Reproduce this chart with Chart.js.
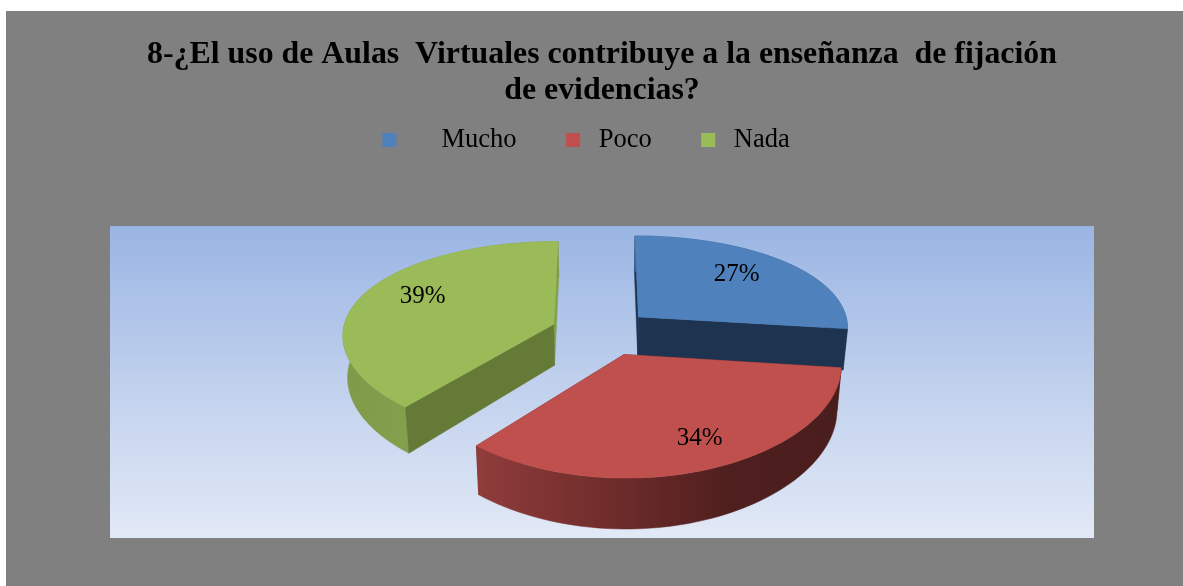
<!DOCTYPE html>
<html><head><meta charset="utf-8">
<style>html,body{margin:0;padding:0;background:#fff}canvas{display:block}</style>
<script src="https://cdn.jsdelivr.net/npm/chart.js@4"></script>
</head><body><canvas id="c" width="1183" height="586"></canvas>
<script>
const titleLines = ["8-¿El uso de Aulas  Virtuales contribuye a la enseñanza  de fijación", "de evidencias?"];
const categories = ["Mucho", "Poco", "Nada"];
const legendText = ["    \u2009Mucho      ", "\u2009Poco      ", "\u2009Nada    \u2009"];
const values = [27, 34, 39];
const topColors = ["#4f81bd", "#c0504d", "#9bbb59"];
const startWallColors = ["#1d3350", "#6a2a29", "#667a38"];
const endWallColors = ["#1d3350", "#6a2a29", "#84a04c"];
const outerWallStops = [
  [[0, "#3c6390"], [1, "#3c6390"]],
  [[0, "#8f3c3a"], [0.4, "#6c2b2a"], [0.7, "#4e1f1e"], [1, "#4a1e1d"]],
  [[0, "#7f9a49"], [0.5, "#88a550"], [1, "#7f9a49"]]
];
const drawOrder = [2, 0, 1];
const sliceNudgeX = [-1, 3, -1];
const labelNudge = [[-11, 0], [14, 4], [9, -5]];

const view = {cx:602, cy:332, B:211, A:97.4, ky:0.151, kx:0.1, depth:41.5, taper:0.018, explode:0.24, labelAt:0.74};
const frame = {left:6, top:11, plotL:110, plotT:226, plotR:1094, plotB:538};

function project(u, v, bottom, dx){
  const sy = 1/(1 - view.ky*v), sx = 1/(1 - view.kx*v);
  const t = bottom ? 1 - view.taper : 1;
  return [view.cx + (dx||0) + view.B*u*sx*t, view.cy + view.A*v*sy + (bottom ? view.depth*sy : 0)];
}
function polyFill(ctx, pts, fill){
  ctx.beginPath();
  pts.forEach((p,i)=> i ? ctx.lineTo(p[0],p[1]) : ctx.moveTo(p[0],p[1]));
  ctx.closePath();
  ctx.fillStyle = fill; ctx.fill();
  ctx.strokeStyle = fill; ctx.lineWidth = 0.5; ctx.stroke();
}
const pie3d = {
  id:'pie3d',
  beforeDraw(chart){
    const c = chart.ctx;
    c.save();
    c.fillStyle = '#808080';
    c.fillRect(frame.left, frame.top, chart.width-frame.left, chart.height-frame.top);
    const g = c.createLinearGradient(0, frame.plotT, 0, frame.plotB);
    g.addColorStop(0, '#9ab5e3'); g.addColorStop(0.5, '#c0d0ed'); g.addColorStop(1, '#e2e9f6');
    c.fillStyle = g;
    c.fillRect(frame.plotL, frame.plotT, frame.plotR-frame.plotL, frame.plotB-frame.plotT);
    c.restore();
  },
  beforeDatasetDraw(chart){
    const c = chart.ctx, arcs = chart.getDatasetMeta(0).data;
    c.save();
    drawOrder.forEach(i=>{
      const a = arcs[i], s = a.startAngle, e = a.endAngle, m = (s+e)/2, dx = sliceNudgeX[i];
      const ox = view.explode*Math.cos(m), oy = view.explode*Math.sin(m);
      const n = 60, rim = [];
      for(let j=0;j<=n;j++){ const t = s+(e-s)*j/n; rim.push([ox+Math.cos(t), oy+Math.sin(t)]); }
      const top = rim.map(p=>project(p[0],p[1],false,dx));
      const bot = rim.map(p=>project(p[0],p[1],true,dx));
      const at = project(ox,oy,false,dx), ab = project(ox,oy,true,dx);
      const startWall = ()=>polyFill(c,[at,top[0],bot[0],ab],startWallColors[i]);
      const endWall = ()=>polyFill(c,[at,top[n],bot[n],ab],endWallColors[i]);
      const startFront = -Math.cos(s) > 0.01, endFront = Math.cos(e) > 0.01;
      if(!startFront) startWall();
      if(!endFront) endWall();
      const xs = bot.map(p=>p[0]);
      const g = c.createLinearGradient(Math.min(...xs),0,Math.max(...xs),0);
      outerWallStops[i].forEach(st=>g.addColorStop(st[0],st[1]));
      polyFill(c,top.concat(bot.slice().reverse()),g);
      if(startFront) startWall();
      if(endFront) endWall();
      polyFill(c,[at].concat(top),topColors[i]);
    });
    c.fillStyle='#000'; c.font='25px "Liberation Serif"'; c.textAlign='center'; c.textBaseline='middle';
    arcs.forEach((a,i)=>{
      const m=(a.startAngle+a.endAngle)/2, r=view.explode+view.labelAt;
      const p=project(r*Math.cos(m),r*Math.sin(m),false);
      c.fillText(values[i]+'%',p[0]+labelNudge[i][0],p[1]+labelNudge[i][1]);
    });
    c.restore();
    return false;
  }
};
new Chart(document.getElementById('c'),{
  type:'pie',
  plugins:[pie3d],
  data:{labels:categories,datasets:[{data:values,backgroundColor:topColors,borderWidth:0}]},
  options:{
    responsive:false,animation:false,
    layout:{padding:{left:21,top:37,right:0,bottom:40}},
    plugins:{
      tooltip:{enabled:false},
      title:{display:true,text:titleLines,color:'#000',font:{family:'"Liberation Serif"',size:31.85,weight:'bold',lineHeight:1.13},padding:{top:0,bottom:8}},
      legend:{display:true,position:'top',
        labels:{boxWidth:14,boxHeight:14,padding:9.8,color:'#0a0a0a',font:{family:'"Liberation Serif"',size:26.5},
          generateLabels:()=>legendText.map((t,i)=>({text:t,fillStyle:topColors[i],strokeStyle:topColors[i],lineWidth:0,index:i,hidden:false}))}
      }
    }
  }
});
</script></body></html>
